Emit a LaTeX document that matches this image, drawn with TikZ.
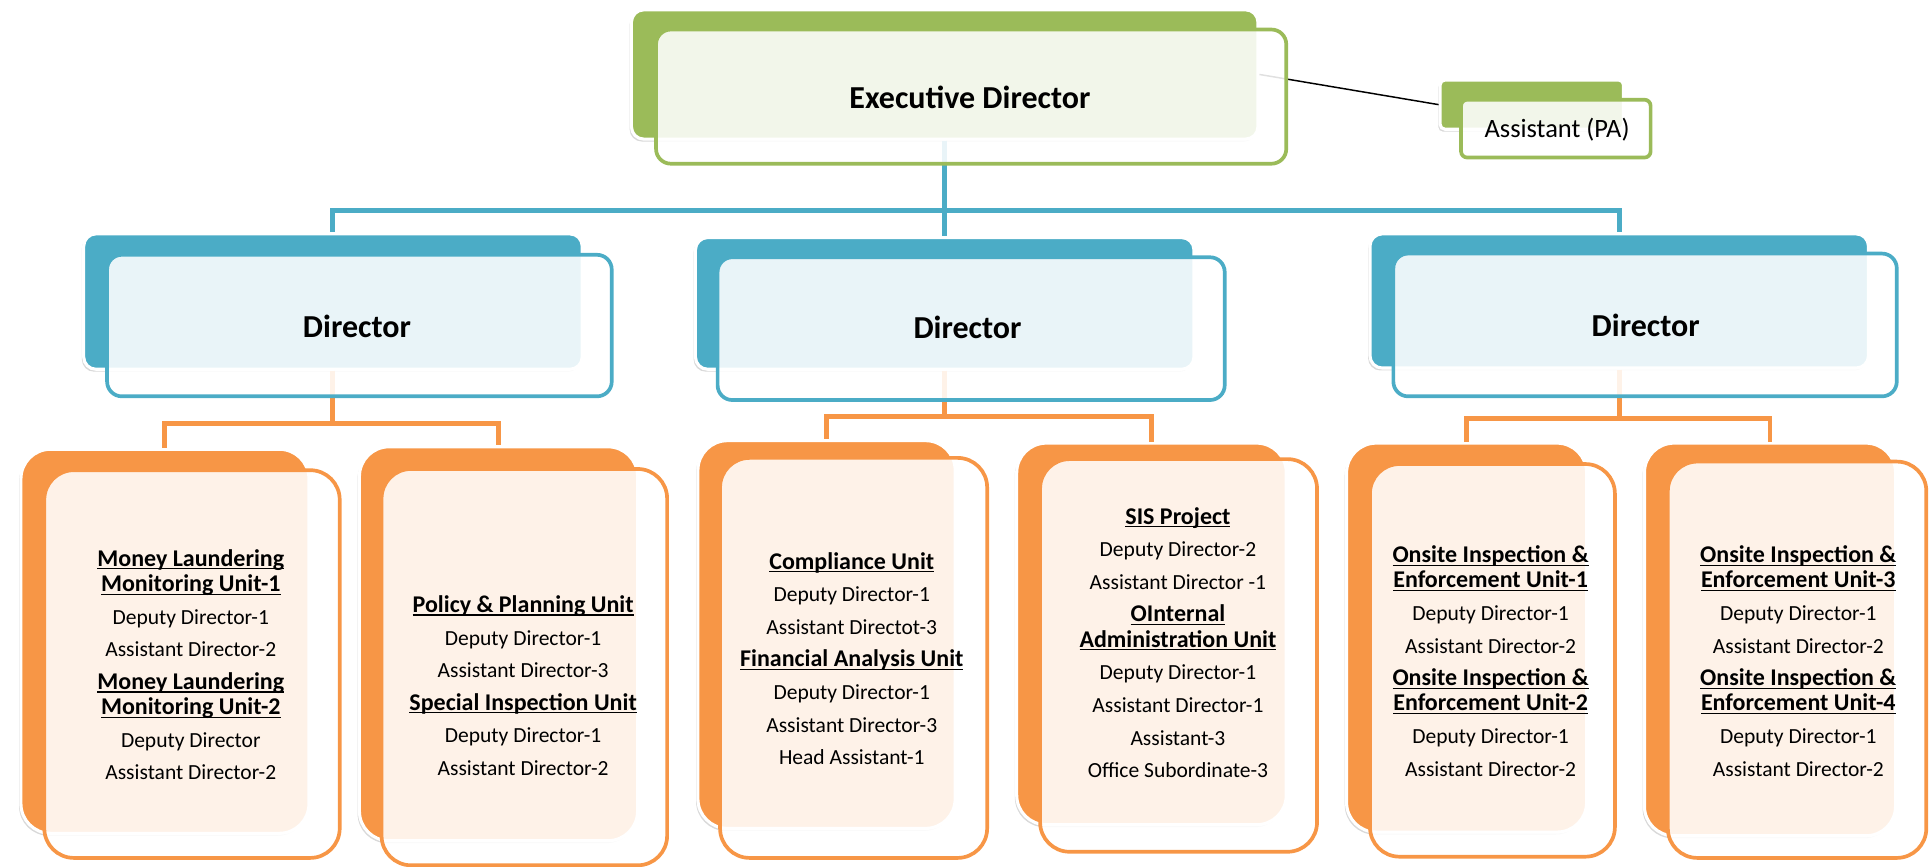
\documentclass[tikz,border=0pt]{standalone}
\usepackage{fontspec}
\setmainfont{Carlito}
\usetikzlibrary{fit,shadows}
\definecolor{exgreen}{HTML}{9BBB59}
\definecolor{dirblue}{HTML}{4BACC6}
\definecolor{unitorange}{HTML}{F79646}
\newcommand{\uhead}[1]{{\bfseries\fontsize{19.5}{20.5}\selectfont
  \setbox0\hbox{#1}\rlap{\rule[-2.6pt]{\wd0}{0.9pt}}\box0}}

\begin{document}
\begin{tikzpicture}[x=1pt,y=-1pt,
  backbox/.style={draw=white,line width=2.5pt,rounded corners=10pt,inner sep=0pt,
    drop shadow={opacity=0.3,shadow xshift=-1.5pt,shadow yshift=-2pt}},
  frontbox/.style={fill=white,fill opacity=0.88,line width=3pt,rounded corners=12pt,inner sep=0pt},
  unitround/.style={rounded corners=24pt},
  headline/.style={font=\bfseries\fontsize{26}{30}\selectfont},
  unittext/.style={align=center,font=\fontsize{17.5}{20.5}\selectfont},
  blueline/.style={draw=dirblue,line width=4pt},
  orangeline/.style={draw=unitorange,line width=4pt}]
\useasboundingbox (0,0) rectangle (1568,703.6);

% back boxes
\node[backbox,fill=exgreen,fit={(513,8) (1022,113)}] (exback) {};
\node[backbox,fill=exgreen,rounded corners=4pt,fit={(1170,65) (1319,105)}] (paback) {};
\node[backbox,fill=dirblue,fit={(68,190) (473,300)}] (d1back) {};
\node[backbox,fill=dirblue,fit={(565,193) (970,300)}] (d2back) {};
\node[backbox,fill=dirblue,fit={(1113,190) (1518,299)}] (d3back) {};
\node[backbox,unitround,fill=unitorange,fit={(17,365) (251,677)}] (u1back) {};
\node[backbox,unitround,fill=unitorange,fit={(292,363) (518,683)}] (u2back) {};
\node[backbox,unitround,fill=unitorange,fit={(567,358) (776,673)}] (u3back) {};
\node[backbox,unitround,fill=unitorange,fit={(826,360) (1045,670)}] (u4back) {};
\node[backbox,unitround,fill=unitorange,fit={(1094,360) (1289,676)}] (u5back) {};
\node[backbox,unitround,fill=unitorange,fit={(1336,360) (1540,679)}] (u6back) {};

% connectors
\draw[line width=1.2pt] (exback.east) -- (paback.west);
\draw[blueline] (exback.south) -- ++(0,57) coordinate (bus) -| (d1back.north);
\draw[blueline] (bus) -| (d3back.north);
\draw[blueline] (exback.south) -- (d2back.north);
\draw[orangeline] (d1back.south) -- ++(0,43) coordinate (obar1) -| (u1back.north);
\draw[orangeline] (obar1) -| (u2back.north);
\draw[orangeline] (d2back.south) -- ++(0,37) coordinate (obar2) -| (u3back.north);
\draw[orangeline] (obar2) -| (u4back.north);
\draw[orangeline] (d3back.south) -- ++(0,40) coordinate (obar3) -| (u5back.north);
\draw[orangeline] (obar3) -| (u6back.north);

% front boxes
\node[frontbox,draw=exgreen,fit={(533,24) (1045,133)}] (exfront) {};
\node[frontbox,draw=exgreen,rounded corners=5pt,fit={(1187,81) (1341,128)}] (pafront) {};
\node[frontbox,draw=dirblue,fit={(87,207) (497,322)}] (d1front) {};
\node[frontbox,draw=dirblue,fit={(583,209) (995,325)}] (d2front) {};
\node[frontbox,draw=dirblue,fit={(1132,206) (1541,322)}] (d3front) {};
\node[frontbox,unitround,draw=unitorange,fit={(36,382) (276,697)}] (u1front) {};
\node[frontbox,unitround,draw=unitorange,fit={(310,381) (542,703)}] (u2front) {};
\node[frontbox,unitround,draw=unitorange,fit={(585,372) (802,697)}] (u3front) {};
\node[frontbox,unitround,draw=unitorange,fit={(845,373) (1070,692)}] (u4front) {};
\node[frontbox,unitround,draw=unitorange,fit={(1113,377) (1312,696)}] (u5front) {};
\node[frontbox,unitround,draw=unitorange,fit={(1355,375) (1565,697)}] (u6front) {};

% texts
\node[headline] (extext) at (788,79) {Executive Director};
\node[font=\fontsize{21.5}{24}\selectfont] (patext) at (1265,105) {Assistant (PA)};
\node[headline] (d1text) at (290,265) {Director};
\node[headline] (d2text) at (786,266) {Director};
\node[headline] (d3text) at (1337,264) {Director};

\node[unittext] (u1text) at (155,540) {\uhead{Money Laundering}\\
  \uhead{Monitoring Unit-1}\\[6pt] Deputy Director-1\\[6pt] Assistant Director-2\\[6pt]
  \uhead{Money Laundering}\\ \uhead{Monitoring Unit-2}\\[6pt]
  Deputy Director\\[6pt] Assistant Director-2};
\node[unittext] (u2text) at (425,557) {\uhead{Policy \& Planning Unit}\\[6pt]
  Deputy Director-1\\[6pt] Assistant Director-3\\[6pt]
  \uhead{Special Inspection Unit}\\[6pt] Deputy Director-1\\[6pt] Assistant Director-2};
\node[unittext] (u3text) at (692,535) {\uhead{Compliance Unit}\\[6pt]
  Deputy Director-1\\[6pt] Assistant Directot-3\\[6pt]
  \uhead{Financial Analysis Unit}\\[6pt] Deputy Director-1\\[6pt]
  Assistant Director-3\\[6pt] Head Assistant-1};
\node[unittext] (u4text) at (957,522) {\uhead{SIS Project}\\[6pt]
  Deputy Director-2\\[6pt] Assistant Director -1\\[6pt]
  \uhead{OInternal}\\ \uhead{Administration Unit}\\[6pt]
  Deputy Director-1\\[6pt] Assistant Director-1\\[6pt] Assistant-3\\[6pt]
  Office Subordinate-3};
\node[unittext] (u5text) at (1211,537) {\uhead{Onsite Inspection \&}\\
  \uhead{Enforcement Unit-1}\\[6pt] Deputy Director-1\\[6pt] Assistant Director-2\\[6pt]
  \uhead{Onsite Inspection \&}\\ \uhead{Enforcement Unit-2}\\[6pt]
  Deputy Director-1\\[6pt] Assistant Director-2};
\node[unittext] (u6text) at (1461,537) {\uhead{Onsite Inspection \&}\\
  \uhead{Enforcement Unit-3}\\[6pt] Deputy Director-1\\[6pt] Assistant Director-2\\[6pt]
  \uhead{Onsite Inspection \&}\\ \uhead{Enforcement Unit-4}\\[6pt]
  Deputy Director-1\\[6pt] Assistant Director-2};
\end{tikzpicture}
\end{document}
